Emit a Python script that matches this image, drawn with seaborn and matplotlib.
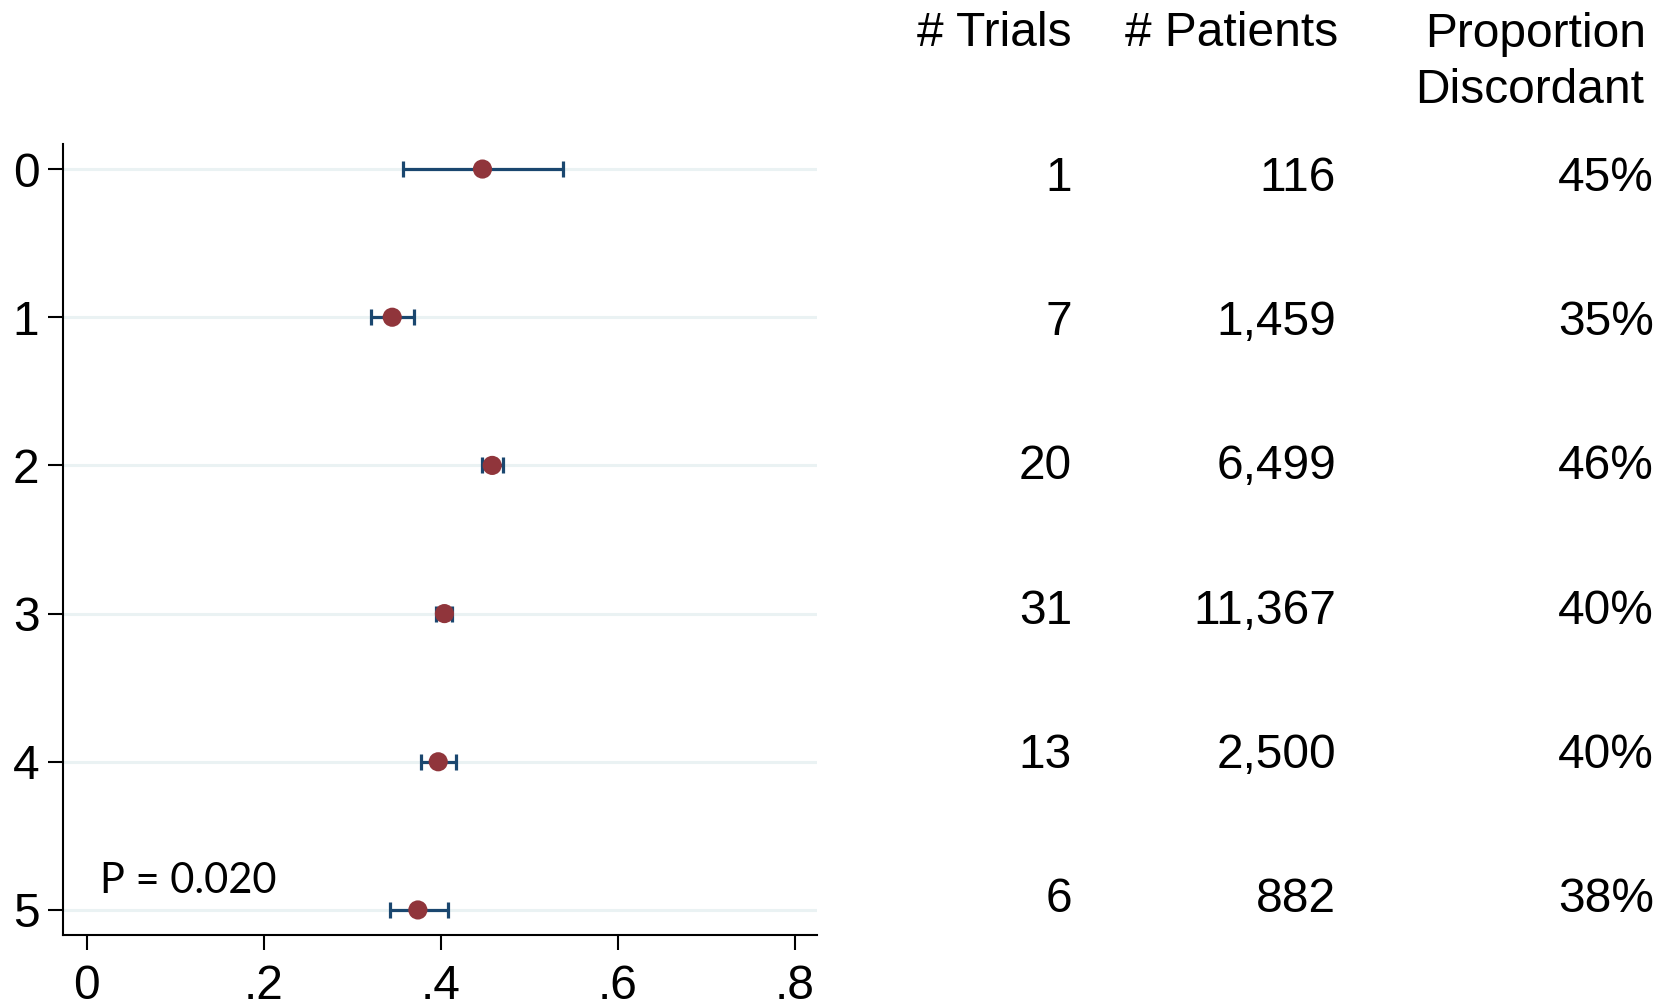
import matplotlib
matplotlib.use("Agg")
import matplotlib.pyplot as plt
import seaborn as sns
import pandas as pd

# ---- data ----
groups = [0, 1, 2, 3, 4, 5]
proportion = [0.447, 0.345, 0.458, 0.404, 0.397, 0.374]
ci_low = [0.357, 0.321, 0.446, 0.394, 0.378, 0.343]
ci_high = [0.538, 0.370, 0.470, 0.413, 0.417, 0.408]
n_trials = ["1", "7", "20", "31", "13", "6"]
n_patients = ["116", "1,459", "6,499", "11,367", "2,500", "882"]
pct_discordant = ["45%", "35%", "46%", "40%", "40%", "38%"]
x_ticks = [0, 0.2, 0.4, 0.6, 0.8]
x_tick_labels = ["0", ".2", ".4", ".6", ".8"]
p_text = "P = 0.020"

df = pd.DataFrame({"group": groups, "prop": proportion, "lo": ci_low, "hi": ci_high})

sns.set_style("ticks")
plt.rcParams["font.family"] = ["Liberation Sans", "DejaVu Sans"]
plt.rcParams["text.color"] = "black"
plt.rcParams["xtick.color"] = "black"
plt.rcParams["ytick.color"] = "black"
plt.rcParams["axes.labelcolor"] = "black"

W, H = 1669, 999
fig = plt.figure(figsize=(W / 100, H / 100), dpi=100)
ax = fig.add_axes([63 / W, 1 - 935 / H, (817 - 63) / W, (935 - 144) / H])

MARKER = "#90353b"
ERR = "#1a476f"
GRID = "#eaf2f3"

# gridlines
for g in groups:
    ax.axhline(g, color=GRID, lw=2.2, zorder=0)

ax.errorbar(df["prop"], df["group"],
            xerr=[df["prop"] - df["lo"], df["hi"] - df["prop"]],
            fmt="none", ecolor=ERR, elinewidth=2.3, capsize=6.1, capthick=2.3, zorder=2)
sns.scatterplot(data=df, x="prop", y="group", ax=ax, color=MARKER, s=190,
                edgecolor="none", linewidth=0, zorder=3, legend=False)

ax.set_xlim(-0.027, 0.825)
ax.set_ylim(5.169, -0.169)
ax.set_xticks(x_ticks)
ax.set_xticklabels(x_tick_labels)
ax.set_yticks(groups)
ax.set_yticklabels([str(g) for g in groups])
ax.set_xlabel("")
ax.set_ylabel("")
ax.grid(False)

for s in ["top", "right"]:
    ax.spines[s].set_visible(False)
for s in ["left", "bottom"]:
    ax.spines[s].set_linewidth(1.5)
    ax.spines[s].set_color("black")

TFS = 34.5
ax.tick_params(axis="x", length=11, width=1.5, pad=10, labelsize=TFS, colors="black")
ax.tick_params(axis="y", length=11, width=1.5, pad=6, labelsize=TFS, colors="black")

# P value annotation
fig.text(100 / W, 1 - 893 / H, p_text, fontsize=30, family=["Lato", "DejaVu Sans"],
         ha="left", va="baseline", color="black")

# table
def px(x, y):
    return x / W, 1 - y / H

FS = 34.5
fig.text(*px(1072, 46), "# Trials", fontsize=FS, ha="right", va="baseline", color="black")
fig.text(*px(1338, 46), "# Patients", fontsize=FS, ha="right", va="baseline", color="black")
fig.text(*px(1646, 47), "Proportion", fontsize=FS, ha="right", va="baseline", color="black")
fig.text(*px(1644, 103), "Discordant", fontsize=FS, ha="right", va="baseline", color="black")

row0_baseline = 191
row_step = 144.2
for i in range(len(groups)):
    yb = row0_baseline + i * row_step
    fig.text(*px(1072, yb), n_trials[i], fontsize=FS, ha="right", va="baseline", color="black")
    fig.text(*px(1336, yb), n_patients[i], fontsize=FS, ha="right", va="baseline", color="black")
    fig.text(*px(1654, yb), pct_discordant[i], fontsize=FS, ha="right", va="baseline", color="black")

fig.savefig("out.png", dpi=100)
